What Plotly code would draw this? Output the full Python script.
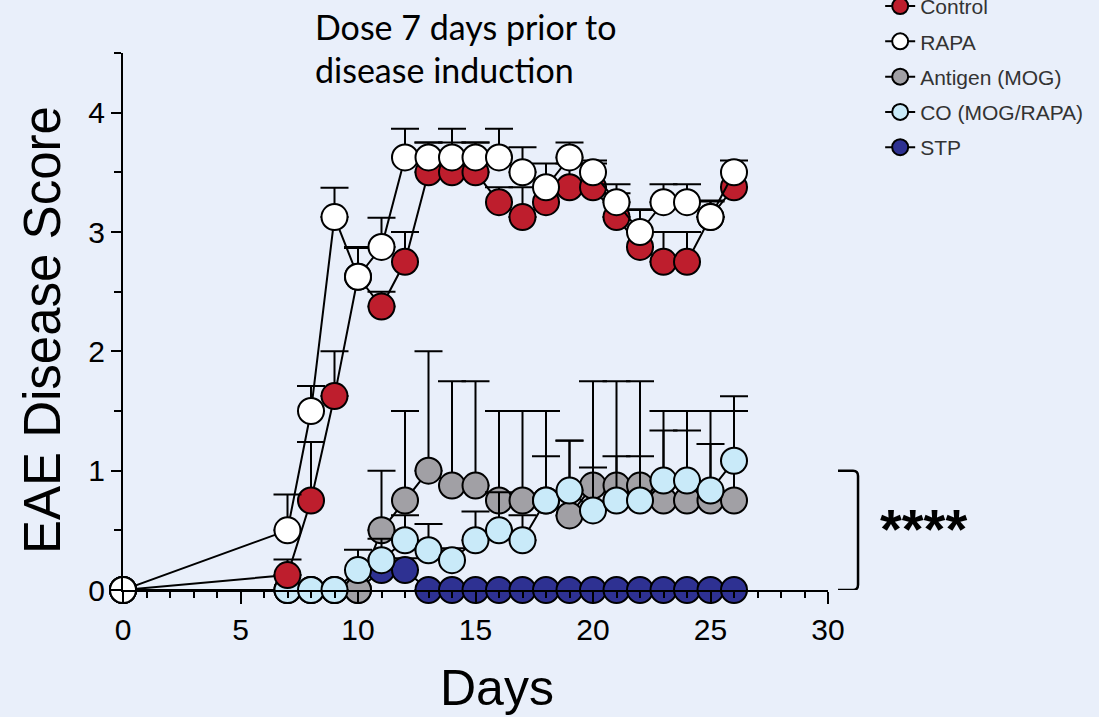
import plotly.graph_objects as go

days = [0, 7, 8, 9, 10, 11, 12, 13, 14, 15, 16, 17, 18, 19, 20, 21, 22, 23, 24, 25, 26]

control = [0, 0.125, 0.75, 1.625, 2.625, 2.375, 2.75, 3.5, 3.5, 3.5, 3.25, 3.125, 3.25, 3.375, 3.375, 3.125, 2.875, 2.75, 2.75, 3.125, 3.375]
control_err = [0, 0.13, 0.49, 0.375, 0.25, 0.125, 0.25, 0.25, 0.25, 0.25, 0.125, 0.25, 0.13, 0.2, 0.2, 0.2, 0.31, 0.25, 0.25, 0.13, 0.13]

rapa = [0, 0.5, 1.5, 3.125, 2.625, 2.875, 3.625, 3.625, 3.625, 3.625, 3.625, 3.5, 3.375, 3.625, 3.5, 3.25, 3.0, 3.25, 3.25, 3.125, 3.5]
rapa_err = [0, 0.3, 0.21, 0.245, 0.24, 0.245, 0.24, 0.125, 0.24, 0.125, 0.24, 0.21, 0.2, 0.125, 0.1, 0.15, 0.19, 0.15, 0.15, 0.14, 0.1]

antigen = [0, 0, 0, 0, 0, 0.5, 0.75, 1.0, 0.875, 0.875, 0.75, 0.75, 0.75, 0.625, 0.875, 0.875, 0.875, 0.75, 0.75, 0.75, 0.75]
antigen_err = [0, 0, 0, 0, 0, 0.5, 0.75, 1.0, 0.875, 0.875, 0.75, 0.75, 0.75, 0.625, 0.875, 0.875, 0.875, 0.75, 0.75, 0.75, 0.75]

co = [0, 0, 0, 0, 0.167, 0.25, 0.417, 0.333, 0.25, 0.417, 0.5, 0.417, 0.75, 0.833, 0.667, 0.75, 0.75, 0.917, 0.917, 0.833, 1.083]
co_err = [0, 0, 0, 0, 0.17, 0.18, 0.21, 0.22, 0.1, 0.24, 0.32, 0.21, 0.37, 0.42, 0.36, 0.37, 0.37, 0.42, 0.42, 0.39, 0.54]

stp = [0, 0, 0, 0, 0, 0.167, 0.167, 0, 0, 0, 0, 0, 0, 0, 0, 0, 0, 0, 0, 0, 0]
stp_err = [0, 0, 0, 0, 0, 0.1, 0.1, 0, 0, 0, 0, 0, 0, 0, 0, 0, 0, 0, 0, 0, 0]

# (name, values, errors, fill colour, legend position) -- listed in drawing order
series = [
    ("STP", stp, stp_err, "#2E3192", 5),
    ("Antigen (MOG)", antigen, antigen_err, "#A1A0A5", 3),
    ("CO (MOG/RAPA)", co, co_err, "#C9EAF9", 4),
    ("Control", control, control_err, "#BE1E2D", 1),
    ("RAPA", rapa, rapa_err, "#FFFFFF", 2),
]

BG = "#E9EFFA"
FONT = "Liberation Sans, Arial, Helvetica, sans-serif"

fig = go.Figure()
for name, vals, errs, color, rank in series:
    fig.add_trace(go.Scatter(
        x=days, y=vals, name=name, mode="lines+markers",
        line=dict(color="black", width=2),
        marker=dict(size=26, color=color, line=dict(color="black", width=2)),
        error_y=dict(type="data", array=errs, arrayminus=[0] * len(errs), symmetric=False,
                     color="black", thickness=2, width=14),
        cliponaxis=False, legendgroup=name, legendrank=rank,
    ))

fig.update_layout(
    width=1099, height=717,
    paper_bgcolor=BG, plot_bgcolor=BG,
    margin=dict(l=123, r=271, t=53, b=127, autoexpand=False),
    font=dict(family=FONT, color="black"),
    showlegend=True,
    legend=dict(
        x=1.074, xanchor="left", y=1.125, yanchor="top",
        font=dict(family=FONT, size=21, color="#333333"),
        bgcolor="rgba(0,0,0,0)", traceorder="grouped", tracegroupgap=5,
    ),
    xaxis=dict(
        range=[0, 30], showgrid=False, zeroline=False,
        showline=True, linecolor="black", linewidth=2,
        ticks="outside", tickwidth=2, ticklen=12, tickcolor="black", dtick=5, tick0=0,
        tickfont=dict(size=30, family=FONT),
        minor=dict(dtick=1, ticks="outside", ticklen=6, tickwidth=1.5, tickcolor="black"),
    ),
    yaxis=dict(
        range=[0, 4.5], showgrid=False, zeroline=False,
        showline=True, linecolor="black", linewidth=2,
        ticks="outside", tickwidth=2, ticklen=10, tickcolor="black", dtick=1, tick0=0,
        tickfont=dict(size=30, family=FONT),
        minor=dict(dtick=0.5, ticks="outside", ticklen=7, tickwidth=1.5, tickcolor="black"),
    ),
)

# axis titles
fig.add_annotation(text="Days", xref="paper", yref="paper", x=0.5305, y=-0.183,
                   xanchor="center", yanchor="middle", showarrow=False,
                   font=dict(size=50, family=FONT, color="black"))
fig.add_annotation(text="EAE Disease Score", xref="paper", yref="paper", x=-0.115, y=0.484,
                   xanchor="center", yanchor="middle", showarrow=False, textangle=-90,
                   font=dict(size=51, family=FONT, color="black"))

# dosing note
note_font = dict(size=34, family="Lato, Carlito, sans-serif", color="black")
fig.add_annotation(text="Dose 7 days prior to", xref="paper", yref="paper", x=0.27, y=1.049,
                   xanchor="left", yanchor="middle", showarrow=False, font=note_font)
fig.add_annotation(text="disease induction", xref="paper", yref="paper", x=0.27, y=0.969,
                   xanchor="left", yanchor="middle", showarrow=False, font=note_font)

# significance bracket
x0, x1, r = 1.0142, 1.0426, 0.007
yt, yb, ry = 1.0, 0.0, 0.045
fig.add_shape(type="path", xref="paper", yref="y",
              path=f"M {x0},{yt} L {x1 - r},{yt} Q {x1},{yt} {x1},{yt - ry} L {x1},{yb + ry} Q {x1},{yb} {x1 - r},{yb} L {x0},{yb}",
              line=dict(color="black", width=2.5))
fig.add_annotation(text="<b>****</b>", xref="paper", yref="paper", x=1.1348, y=0.115,
                   xanchor="center", yanchor="middle", showarrow=False,
                   font=dict(size=56, family=FONT, color="black"))

fig.write_html("out.html", config={"displayModeBar": False},
               post_script="document.body.style.margin='0';")
